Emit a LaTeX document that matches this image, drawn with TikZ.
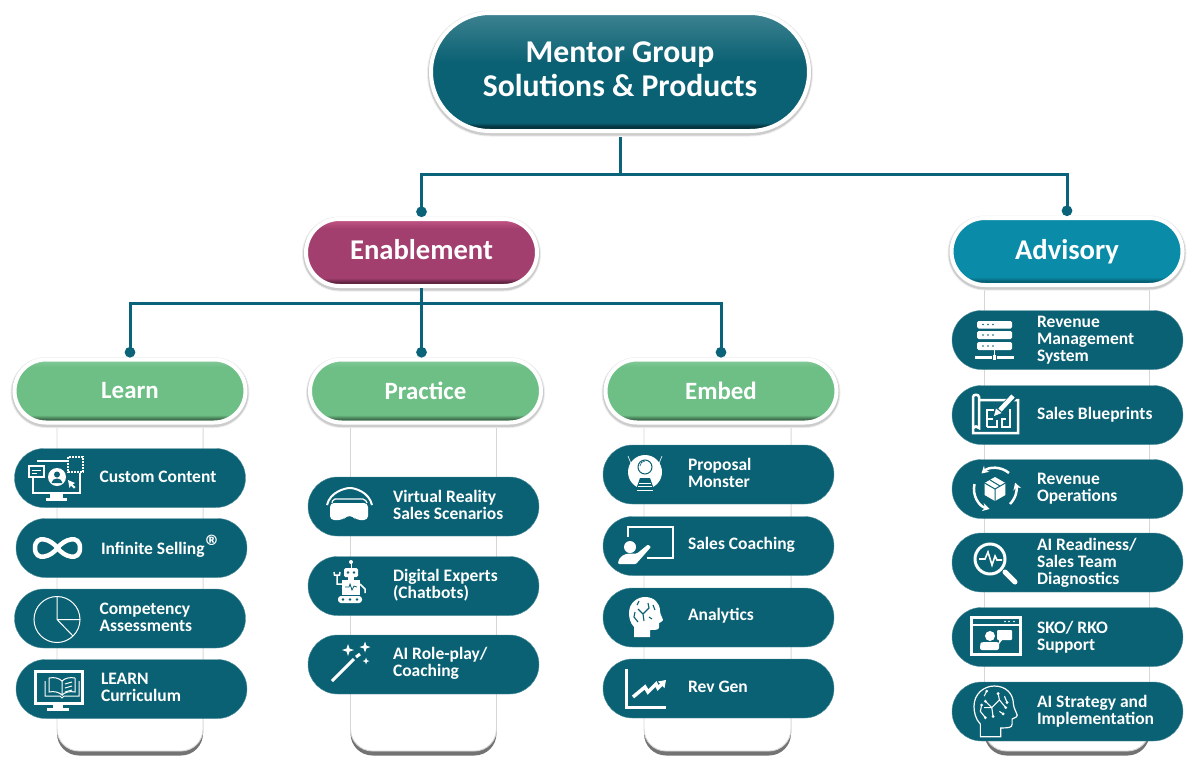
\documentclass[tikz,border=0pt]{standalone}
\usepackage{fontspec}
\setmainfont{Carlito}
\usetikzlibrary{positioning}
\usetikzlibrary{arrows.meta}
\usetikzlibrary{shadows}
\definecolor{mgteal}{HTML}{0A6173}
\definecolor{mgline}{HTML}{0B6379}
\definecolor{mgpurple}{HTML}{A33F6E}
\definecolor{mgpurpleup}{HTML}{B84578}
\definecolor{mgblue}{HTML}{0A8CA8}
\definecolor{mggreen}{HTML}{6DBF85}
\pgfdeclareverticalshading{shtitle}{100bp}{color(0bp)=(black!60!mgteal); color(27bp)=(black!45!mgteal); color(28.5bp)=(mgteal); color(54bp)=(mgteal); color(75bp)=(white!21!mgteal); color(100bp)=(white!21!mgteal)}
\pgfdeclareverticalshading{shpurple}{100bp}{color(0bp)=(black!50!mgpurple); color(28bp)=(black!40!mgpurple); color(31bp)=(mgpurple); color(68bp)=(mgpurple); color(73bp)=(white!6!mgpurpleup); color(100bp)=(mgpurpleup)}
\pgfdeclareverticalshading{shblue}{100bp}{color(0bp)=(black!40!mgblue); color(28bp)=(black!30!mgblue); color(31bp)=(mgblue); color(100bp)=(mgblue)}
\pgfdeclareverticalshading{shgreen}{100bp}{color(0bp)=(black!50!mggreen); color(28bp)=(black!40!mggreen); color(31bp)=(mggreen); color(69bp)=(mggreen); color(73bp)=(white!12!mggreen); color(100bp)=(white!12!mggreen)}
\tikzset{
  ringbox/.style={draw=white,line width=4pt,text=white,align=center,font=\bfseries,inner sep=0pt,
    preaction={draw=black!7,line width=8pt,transform canvas={yshift=-1.5pt}},
    preaction={draw=black!20,line width=6pt,transform canvas={yshift=-1.5pt}}},
  titlebox/.style={ringbox,shading=shtitle,minimum width=378pt,minimum height=118pt,rounded corners=59pt,text depth=6.5pt,font=\bfseries\fontsize{31.7}{34}\selectfont},
  groupbox/.style={ringbox,minimum width=231pt,minimum height=67pt,rounded corners=33.5pt,font=\bfseries\fontsize{28.6}{30}\selectfont},
  subbox/.style={ringbox,shading=shgreen,minimum width=231pt,minimum height=63pt,rounded corners=31.5pt,font=\bfseries\fontsize{24.9}{26}\selectfont},
  itembox/.style={fill=mgteal,draw=mgteal!70!white,line width=.4pt,minimum width=231pt,minimum height=59pt,rounded corners=29.5pt,inner sep=0pt},
  itemlabel/.style={text=white,align=left,inner sep=0pt,yshift=1.3pt,font=\bfseries\fontsize{17.5}{17}\selectfont},
  advisorylabel/.style={itemlabel,yshift=-1.2pt},
  card/.style={fill=white,draw=black!16,line width=.9pt,rounded corners=22pt,inner sep=0pt,minimum width=146pt,
    drop shadow={shadow xshift=0pt,shadow yshift=-4.5pt,fill=black,opacity=.55}},
  link/.style={draw=mgline,line width=3pt},
  dotlink/.style={link,-{Circle[length=10.5pt,width=10.5pt]}},
  iconline/.style={draw=white,line width=2pt},
  iconfill/.style={fill=white},
  iconcut/.style={draw=mgteal,line width=1pt}
}
\newcommand{\headpath}{(5,40) -- (5,30) .. controls (1,26) and (0,20) .. (0,16) .. controls (0,6) and (8,0) .. (16,0) .. controls (25,0) and (31,6) .. (31,14) .. controls (31,17) and (34,22) .. (34,23) .. controls (34,25) and (31,25) .. (30,26) -- (30,30) .. controls (30,33) and (27,33) .. (21,33) -- (21,40) -- cycle}
\newcommand{\spark}[3]{\fill[iconfill] (#1,#2-#3) -- (#1+.25*#3,#2-.25*#3) -- (#1+#3,#2) -- (#1+.25*#3,#2+.25*#3) -- (#1,#2+#3) -- (#1-.25*#3,#2+.25*#3) -- (#1-#3,#2) -- (#1-.25*#3,#2-.25*#3) -- cycle;}
\begin{document}
\begin{tikzpicture}[x=1pt,y=-1pt]
      \useasboundingbox (0,0) rectangle (1200,763);
      \node[card,minimum height=356pt] (learncard) at (130,573) {};
      \node[card,minimum height=356pt] (practicecard) at (423.5,573) {};
      \node[card,minimum height=356pt,minimum width=147pt] (embedcard) at (717.5,573) {};
      \node[card,minimum height=500pt,minimum width=165pt] (advisorycard) at (1067,501) {};
      \node[titlebox] (mentor) at (620,72) {Mentor Group\\Solutions \& Products};
      \node[groupbox,shading=shpurple,text depth=6pt] (enablement) at (421.5,252.5) {Enablement};
      \node[groupbox,shading=shblue] (advisory) at (1067,251.5) {Advisory};
      \node[subbox] (learn) at (130,391) {Learn};
      \node[subbox] (practice) at (425.5,391) {Practice};
      \node[subbox] (embed) at (721,391) {Embed};
      \draw[dotlink] ([yshift=-4pt]mentor.south) -- ++(0,37) -| (enablement.north);
      \draw[dotlink] ([yshift=-4pt]mentor.south) -- ++(0,37) -| (advisory.north);
      \draw[dotlink] (enablement.south) -- ++(0,15) -| (learn.north);
      \draw[dotlink] (enablement.south) -- (enablement.south |- practice.north);
      \draw[dotlink] (enablement.south) -- ++(0,15) -| (embed.north);
      \node[itembox] (custom) at (130,478) {};
      \node[itembox] (infinite) at (131.5,548) {};
      \node[itembox] (competency) at (130,618.5) {};
      \node[itembox] (curriculum) at (131.5,689) {};
      \node[itembox] (reality) at (423.5,506.5) {};
      \node[itembox] (experts) at (423.5,586) {};
      \node[itembox] (roleplay) at (423.5,664.5) {};
      \node[itembox] (monster) at (718.5,474.5) {};
      \node[itembox] (coaching) at (718.5,546) {};
      \node[itembox] (analytics) at (718.5,617.5) {};
      \node[itembox] (revgen) at (718.5,688.5) {};
      \node[itembox] (management) at (1067.5,340) {};
      \node[itembox] (blueprints) at (1067.5,415) {};
      \node[itembox] (operations) at (1067.5,489) {};
      \node[itembox] (readiness) at (1067.5,562.5) {};
      \node[itembox] (support) at (1067.5,637) {};
      \node[itembox] (strategy) at (1067.5,711.5) {};
      \node[itemlabel,right=85pt of custom.west] (customtext) {Custom Content};
      \node[itemlabel,yshift=-3.5pt,right=85pt of infinite.west] (infinitetext) {Infinite Selling\kern1pt\raisebox{-2.5pt}[0pt][0pt]{\fontsize{32}{32}\selectfont ®}};
      \node[itemlabel,right=85pt of competency.west] (competencytext) {Competency\\Assessments};
      \node[itemlabel,right=85pt of curriculum.west] (curriculumtext) {LEARN\\Curriculum};
      \node[itemlabel,right=85pt of reality.west] (realitytext) {Virtual Reality\\Sales Scenarios};
      \node[itemlabel,right=85pt of experts.west] (expertstext) {Digital Experts\\(Chatbots)};
      \node[itemlabel,right=85pt of roleplay.west] (roleplaytext) {AI Role-play/\\Coaching};
      \node[itemlabel,right=85pt of monster.west] (monstertext) {Proposal\\Monster};
      \node[itemlabel,right=85pt of coaching.west] (coachingtext) {Sales Coaching};
      \node[itemlabel,right=85pt of analytics.west] (analyticstext) {Analytics};
      \node[itemlabel,right=85pt of revgen.west] (revgentext) {Rev Gen};
      \node[advisorylabel,right=85pt of management.west] (managementtext) {Revenue\\Management\\System};
      \node[advisorylabel,right=85pt of blueprints.west] (blueprintstext) {Sales Blueprints};
      \node[advisorylabel,right=85pt of operations.west] (operationstext) {Revenue\\Operations};
      \node[advisorylabel,right=85pt of readiness.west] (readinesstext) {AI Readiness/\\Sales Team\\Diagnostics};
      \node[advisorylabel,right=85pt of support.west] (supporttext) {SKO/ RKO\\Support};
      \node[advisorylabel,right=85pt of strategy.west] (strategytext) {AI Strategy and\\Implementation};
      % custom content
      \draw[iconline] (33,478) -- (33,493) -- (80,493) -- (80,473);
      \draw[iconline] (37,461) -- (67,461);
      \fill[iconfill] (50,493) rectangle (63,498);
      \fill[iconfill] (46,498) rectangle (67,501);
      \draw[iconline,fill=mgteal,line width=1.2pt] (29,466) rectangle (44,477);
      \draw[iconline,line width=1pt] (32,470) -- (41,470) (32,473) -- (37,473);
      \fill[iconfill] (57,477) circle (9);
      \fill[mgteal] (57,474.5) circle (3);
      \fill[mgteal] (51.5,483) .. controls (52,477) and (62,477) .. (62.5,483) -- cycle;
      \draw[iconline,densely dotted,line width=1.6pt] (68,457) rectangle (83,472);
      \fill[iconfill] (68,480) -- (75,483) -- (72.5,484.5) -- (75.5,487) -- (74,488.5) -- (71,485.5) -- (69.5,488) -- cycle;
      % infinity
      \draw[iconline,line width=4.5pt] (57.5,548) .. controls (51,539) and (35,534) .. (35,548) .. controls (35,562) and (51,557) .. (57.5,548) .. controls (64,539) and (80,534) .. (80,548) .. controls (80,562) and (64,557) .. (57.5,548) -- cycle;
      % pie
      \draw[iconline,line width=1pt] (57,619.5) circle (23);
      \draw[iconline,line width=1pt] (57,596.5) -- (57,619.5) -- (80,619.5) (57,619.5) -- (73,636);
      % learn curriculum
      \draw[iconline,line width=3pt] (35,671) rectangle (82,703);
      \fill[iconfill] (53,703) rectangle (63,708);
      \fill[iconfill] (47,708) rectangle (69,711);
      \draw[iconline,line width=1pt] (49,678) .. controls (54,677) and (59,678) .. (62,681) -- (62,695) .. controls (59,692) and (54,691) .. (49,692) -- cycle;
      \draw[iconline,line width=1pt] (75,678) .. controls (70,677) and (65,678) .. (62,681) (62,695) .. controls (65,692) and (70,691) .. (75,692) -- (75,678);
      \draw[iconline,line width=1pt] (45,681) -- (45,696) -- (60,696) -- (62,698) -- (64,696) -- (79,696) -- (79,681);
      \draw[iconline,line width=1pt] (65,684) -- (72,682) (65,688) -- (72,686) (65,692) -- (72,690);
      % virtual reality
      \draw[iconline] (327,505) .. controls (330,492) and (345,488) .. (350,488) .. controls (355,488) and (369,492) .. (372,505);
      \draw[iconline,line width=1.2pt,rounded corners=2pt] (332,503) -- (333,499) -- (365,499) -- (367,503);
      \fill[iconfill,rounded corners=4pt] (330,503) -- (368,503) -- (368,520) -- (356,520) -- (353,516) -- (346,516) -- (343,520) -- (330,520) -- cycle;
      % robot
      \fill[iconfill] (351,562) circle (2);
      \draw[iconline,line width=1pt] (351,562) -- (351,568);
      \fill[iconfill,rounded corners=1.5pt] (344,568) rectangle (358,577);
      \fill[mgteal] (348,572.5) circle (1.3) (354,572.5) circle (1.3);
      \fill[iconfill] (348,577) rectangle (354,581);
      \fill[iconfill] (342,580) rectangle (360,595);
      \draw[iconcut,line width=.8pt] (345,587) -- (349,587) -- (350,584) -- (352,590) -- (354,586) -- (357,587);
      \draw[iconline,line width=1.5pt] (342,584) -- (337,584) -- (337,575) (334,572) -- (334.5,575) -- (339.5,575) -- (340,572);
      \draw[iconline,line width=1.5pt] (360,584) -- (365,589) -- (365,593);
      \fill[iconfill,rounded corners=3pt] (338,596) rectangle (362,603);
      \fill[mgteal] (343,599.5) circle (1.3) (350,599.5) circle (1.3) (357,599.5) circle (1.3);
      % wand
      \draw[iconline,line width=3pt] (332,681) -- (354,659);
      \draw[iconline,line width=3pt] (356,657) -- (360,654);
      \spark{348}{650}{6}
      \spark{365}{647}{5.5}
      \spark{366}{661}{3.5}
      % proposal monster
      \draw[iconline,line width=.6pt] (628,456) -- (632,466) (662,456) -- (658,466);
      \fill[iconfill] (645,472) circle (17);
      \draw[iconcut] (645,467) circle (7);
      \draw[iconcut,line width=.6pt] (640,466) arc (180:270:5);
      \fill[mgteal] (640,478) -- (650,478) -- (656,495) -- (634,495) -- cycle;
      \draw[white,line width=.8pt] (639,483) -- (651,483) (638,486.5) -- (652,486.5) (637,490) -- (653,490);
      % sales coaching
      \draw[iconline,line width=2.5pt] (628,537) -- (628,527) -- (673,527) -- (673,558) -- (647,558);
      \fill[iconfill] (630,547) circle (6);
      \fill[iconfill,rounded corners=1pt] (618,564) .. controls (619,556) and (625,553.5) .. (631,553.5) -- (637,553.5) -- (648,544.5) -- (651,547) -- (636,564) -- cycle;
      % analytics
      \begin{scope}[shift={(629,597)}]
      \fill[iconfill] \headpath;
      \draw[iconcut,line width=1.1pt] (15,24) -- (14,17) -- (9,12) (14,17) -- (20,11) -- (19,6) (9,25) -- (5,20) -- (6,15) (8,8) -- (10,4) (24,8) -- (26,13) (20,20) -- (23,22);
      \end{scope}
      % rev gen
      \draw[iconline,line width=3pt] (626,669) -- (626,707) -- (666,707);
      \draw[iconline,line width=3.5pt] (633,697) -- (645,687) -- (648,692) -- (656,684) -- (658,688) -- (663,683);
      \fill[iconfill] (666,680) -- (664.5,688) -- (658,681.5) -- cycle;
      % server
      \fill[iconfill,rounded corners=1.5pt] (977,321) rectangle (1012,328.5);
      \fill[iconfill,rounded corners=1.5pt] (977,331) rectangle (1012,339);
      \fill[iconfill,rounded corners=1.5pt] (977,342) rectangle (1012,350);
      \fill[mgteal] (983,324.5) circle (.8) (988,324.5) circle (.8) (993,324.5) circle (.8);
      \fill[mgteal] (983,335) circle (.8) (988,335) circle (.8) (993,335) circle (.8);
      \fill[mgteal] (983,346) circle (.8) (988,346) circle (.8) (993,346) circle (.8);
      \draw[iconline,line width=1.2pt] (994.5,350) -- (994.5,355);
      \fill[iconfill] (975,355.5) rectangle (992,359);
      \fill[iconfill] (993,354.5) rectangle (996,360);
      \fill[iconfill] (997,355.5) rectangle (1014,359);
      % blueprints
      \draw[iconline,line width=2.5pt] (979,400) -- (1018,400) -- (1018,433) -- (973,433) -- (973,397) .. controls (973,394) and (979,394) .. (979,397) -- (979,428) .. controls (977,426) and (975,426) .. (973,428);
      \draw[iconline] (987,427) -- (987,410) -- (994,410) (987,419) -- (993,419) (987,427) -- (997,427) -- (997,420) (1010,409) -- (1010,427) -- (1002,427) -- (1002,419) -- (1006,419);
      \draw[mgteal,line width=7pt] (997,414) -- (1014,396);
      \draw[iconline,line width=4.5pt] (1000,410) -- (1013,396);
      \fill[iconfill] (994,416) -- (996,408.5) -- (1001.5,413) -- cycle;
      % revenue operations
      \draw[iconline,line width=2.5pt,-{Stealth[length=7pt,width=8pt]}] (1009,473) arc (-50:-132:21);
      \draw[iconline,line width=2.5pt,-{Stealth[length=7pt,width=8pt]}] (1010,504) arc (45:-18:21);
      \draw[iconline,line width=2.5pt,-{Stealth[length=7pt,width=8pt]}] (974.5,484) arc (193:105:21);
      \fill[iconfill] (995,477) -- (1005.4,483) -- (1005.4,495) -- (995,501) -- (984.6,495) -- (984.6,483) -- cycle;
      \draw[iconcut] (984.6,483) -- (995,489) -- (1005.4,483) (995,489) -- (995,501) (990,480) -- (1000,486);
      % diagnostics
      \draw[iconline,line width=3pt] (990,559) circle (15);
      \draw[iconline,line width=1.6pt] (979,559) -- (985,559) -- (988,552) -- (992,565) -- (995,556) -- (997,560) -- (1002,560);
      \draw[iconline,line width=5pt,line cap=round] (1005,572) -- (1015,582);
      % sko support
      \draw[iconline,line width=2.5pt] (971.5,617.5) rectangle (1020.5,654.5);
      \draw[iconline,line width=1.2pt] (971.5,625) -- (1020.5,625);
      \fill[iconfill] (1005,621.5) circle (.8) (1009,621.5) circle (.8) (1014,621.5) circle (.8);
      \fill[iconfill] (990,636) circle (5);
      \fill[iconfill,rounded corners=2pt] (980,650) -- (980,645) .. controls (981,642) and (986,642) .. (990,642) .. controls (994,642) and (999,642) .. (999,645) -- (999,650) -- cycle;
      \fill[iconfill,rounded corners=1pt] (997,630) rectangle (1012,640);
      \fill[iconfill] (999,639) -- (999,644) -- (1003,639) -- cycle;
      % ai strategy
      \begin{scope}[shift={(974,686)},scale=1.27]
      \draw[iconline,line width=1.2pt] \headpath;
      \draw[iconline,line width=1.1pt] (15,24) -- (14,17) -- (9,12) (14,17) -- (20,11) -- (19,6) (9,25) -- (5,20) -- (6,15) (8,8) -- (10,4) (24,8) -- (26,13) (20,20) -- (23,22) (14,17) -- (8,17) (20,11) -- (25,17);
      \fill[iconfill] (15,24) circle (1.2) (9,12) circle (1.2) (19,6) circle (1.2) (9,25) circle (1.2) (6,15) circle (1.2) (10,4) circle (1.2) (26,13) circle (1.2) (23,22) circle (1.2) (25,17) circle (1.2);
      \end{scope}
    \end{tikzpicture}
\end{document}
